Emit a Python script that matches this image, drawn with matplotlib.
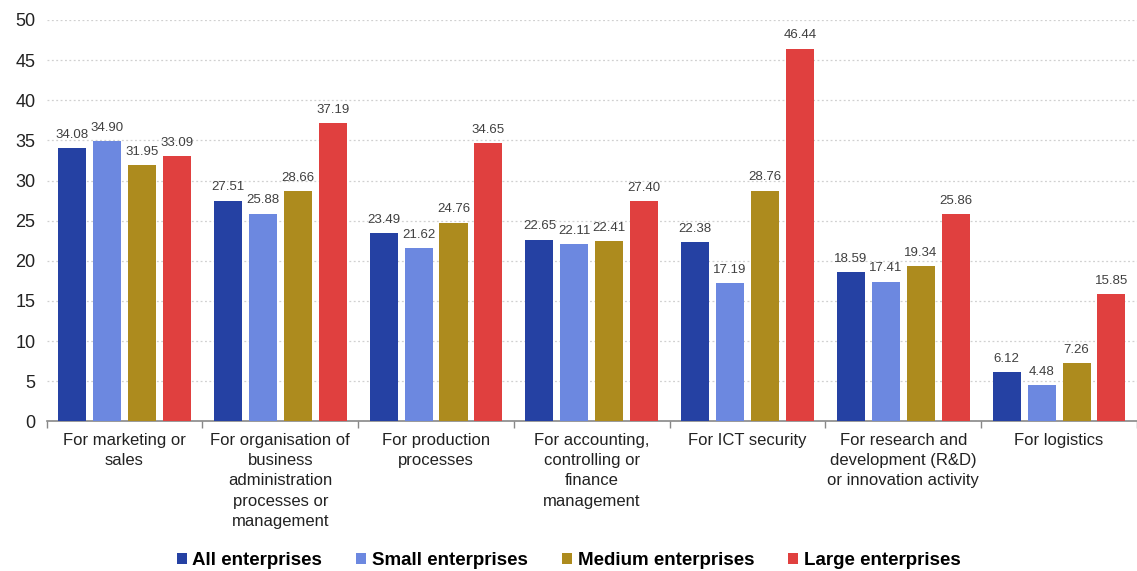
import matplotlib
matplotlib.use("Agg")
import matplotlib.pyplot as plt
import numpy as np

categories = [
    "For marketing or\nsales",
    "For organisation of\nbusiness\nadministration\nprocesses or\nmanagement",
    "For production\nprocesses",
    "For accounting,\ncontrolling or\nfinance\nmanagement",
    "For ICT security",
    "For research and\ndevelopment (R&D)\nor innovation activity",
    "For logistics",
]
series_names = ["All enterprises", "Small enterprises", "Medium enterprises", "Large enterprises"]
all_ent = [34.08, 27.51, 23.49, 22.65, 22.38, 18.59, 6.12]
small_ent = [34.90, 25.88, 21.62, 22.11, 17.19, 17.41, 4.48]
medium_ent = [31.95, 28.66, 24.76, 22.41, 28.76, 19.34, 7.26]
large_ent = [33.09, 37.19, 34.65, 27.40, 46.44, 25.86, 15.85]
colors = ["#2541a3", "#6c88e0", "#ad8b1e", "#e0403f"]

plt.rcParams['font.family'] = ['Liberation Sans', 'DejaVu Sans']
fig = plt.figure(figsize=(11.37, 5.71), dpi=100)
ax = fig.add_axes([0.041, 0.262, 0.959, 0.703])

x = np.arange(len(categories))
step = 0.224
width = 0.18
data = [all_ent, small_ent, medium_ent, large_ent]
for i, (vals, name, c) in enumerate(zip(data, series_names, colors)):
    pos = x + (i - 1.5) * step
    ax.bar(pos, vals, width=width, color=c, label=name, zorder=3)
    for p, v in zip(pos, vals):
        ax.text(p, v + 0.9, f"{v:.2f}", ha="center", va="bottom", fontsize=9.5, color="#404040", zorder=4)

ax.set_xlim(-0.5, len(categories) - 0.5)
ax.set_ylim(0, 50)
ax.set_yticks(range(0, 51, 5))
ax.tick_params(axis='y', length=0, labelsize=13, colors="#222222", pad=8)
ax.yaxis.grid(True, linestyle=(0, (1.5, 2)), color="#d0d0d0", linewidth=0.9, zorder=0)
ax.set_axisbelow(True)

ax.set_xticks(x)
ax.set_xticklabels(categories, fontsize=12, color="#222222", linespacing=1.45)
ax.tick_params(axis='x', length=0, pad=8)
ax.set_xticks(np.arange(-0.5, len(categories), 1.0), minor=True)
ax.tick_params(axis='x', which='minor', length=5, color="#888888", width=1)

for s in ["top", "right", "left"]:
    ax.spines[s].set_visible(False)
ax.spines["bottom"].set_color("#888888")
ax.spines["bottom"].set_linewidth(1.2)

fig.legend(loc="lower center", bbox_to_anchor=(0.5, 0.0), ncol=4, frameon=False,
           borderpad=0.1, borderaxespad=0.0,
           handlelength=0.55, handleheight=0.6, handletextpad=0.3, columnspacing=1.8,
           prop={'weight': 'bold', 'size': 13.5})

fig.savefig("out.png", dpi=100)
